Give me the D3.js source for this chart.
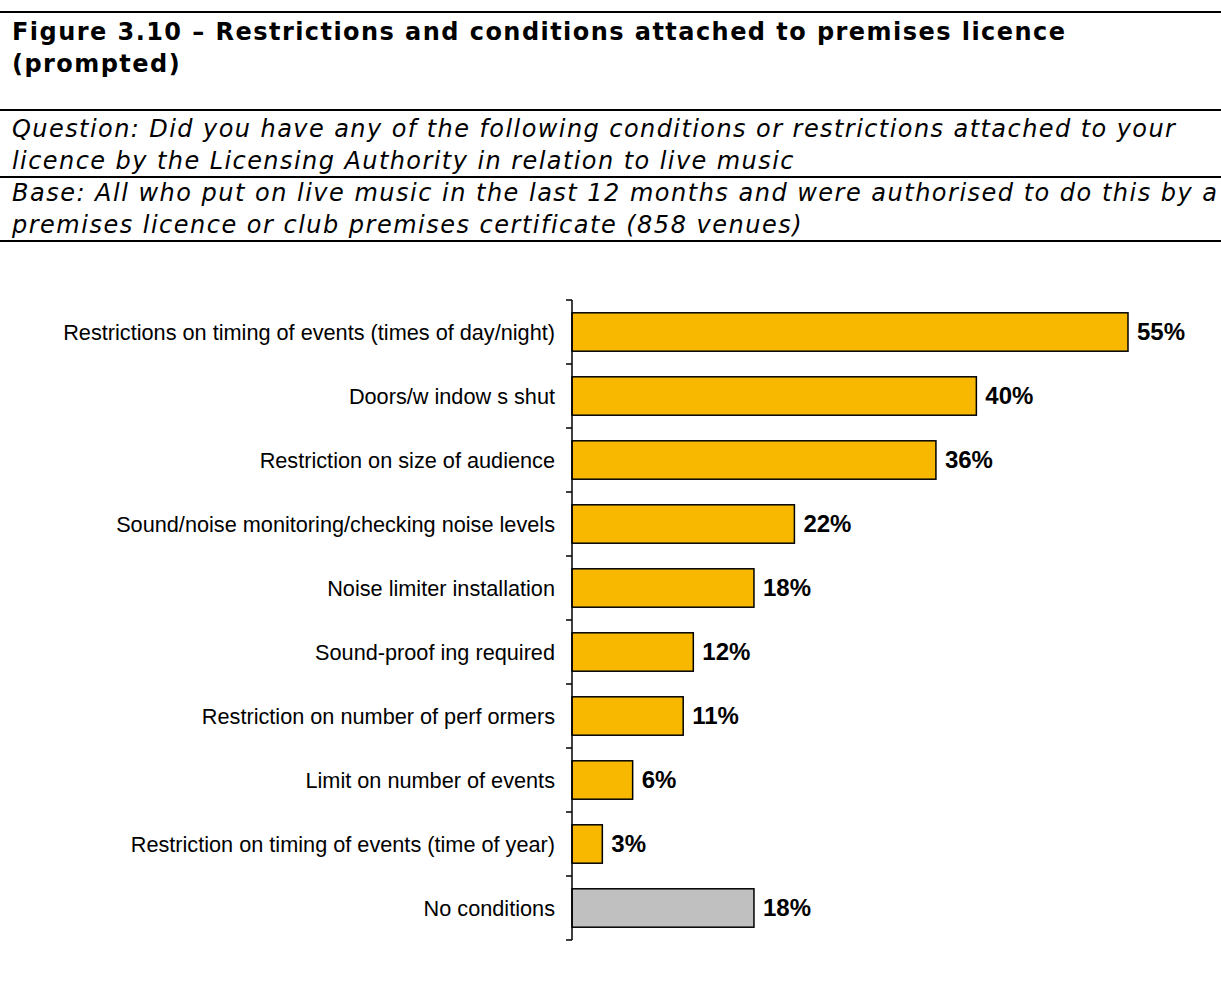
<!DOCTYPE html>
<html>
<head>
<meta charset="utf-8">
<script src="https://cdn.jsdelivr.net/npm/d3@7"></script>
<style>
  html, body { margin: 0; padding: 0; background: #fff; }
  svg { display: block; }
</style>
</head>
<body>
<svg id="chart" width="1221" height="987"></svg>
<script>
// Conditions attached to premises licences, share of venues (%)
const categories = [
  "Restrictions on timing of events (times of day/night)",
  "Doors/w indow s shut",
  "Restriction on size of audience",
  "Sound/noise monitoring/checking noise levels",
  "Noise limiter installation",
  "Sound-proof ing required",
  "Restriction on number of perf ormers",
  "Limit on number of events",
  "Restriction on timing of events (time of year)",
  "No conditions"
];
const values = [55, 40, 36, 22, 18, 12, 11, 6, 3, 18];
const barGroups = ["condition", "condition", "condition", "condition", "condition",
                   "condition", "condition", "condition", "condition", "none"];

const titleLines = [
  "Figure 3.10 \u2013 Restrictions and conditions attached to premises licence",
  "(prompted)"
];
const questionLines = [
  "Question: Did you have any of the following conditions or restrictions attached to your",
  "licence by the Licensing Authority in relation to live music"
];
const baseLines = [
  "Base: All who put on live music in the last 12 months and were authorised to do this by a",
  "premises licence or club premises certificate (858 venues)"
];

const svg = d3.select("#chart");
const W = 1221;

// Header block with rules
const rules = [12, 110, 177, 241];
svg.selectAll("line.rule").data(rules).join("line")
  .attr("class", "rule")
  .attr("x1", 0).attr("x2", W)
  .attr("y1", d => d).attr("y2", d => d)
  .attr("stroke", "#000").attr("stroke-width", 2);

// Header text: the first line of each block sets the tracking, shared by the block
function block(lines, ys, opts) {
  const g = svg.append("g");
  const texts = g.selectAll("text").data(lines).join("text")
    .attr("x", 12)
    .attr("y", (d, i) => ys[i])
    .attr("font-family", "'DejaVu Sans', Verdana, sans-serif")
    .attr("font-size", opts.size)
    .attr("font-weight", opts.weight || "normal")
    .attr("font-style", opts.style || "normal")
    .attr("fill", "#000")
    .text(d => d);
  const first = texts.node();
  const len = first.getComputedTextLength();
  const n = lines[0].length;
  const ls = (opts.width - len) / (n - 1);
  texts.attr("letter-spacing", ls.toFixed(3) + "px");
}
block(titleLines, [39.5, 72], { size: 24, weight: "bold", width: 1053 });
block(questionLines, [136.5, 168.5], { size: 24, style: "italic", width: 1163 });
block(baseLines, [200.5, 232.5], { size: 24, style: "italic", width: 1205 });

// Bar chart
const x0 = 572;
const x = d3.scaleLinear().domain([0, 55]).range([x0, 1128]);
const y = d3.scaleBand().domain(categories).range([300, 940]).paddingInner(0.4).paddingOuter(0.2);

const fill = d3.scaleOrdinal().domain(["condition", "none"]).range(["#f8b800", "#c0c0c0"]);

const data = categories.map((c, i) => ({ cat: c, v: values[i], g: barGroups[i] }));

svg.append("g").selectAll("rect").data(data).join("rect")
  .attr("x", x(0))
  .attr("y", d => y(d.cat))
  .attr("width", d => x(d.v) - x(0))
  .attr("height", y.bandwidth())
  .attr("fill", d => fill(d.g))
  .attr("stroke", "#000")
  .attr("stroke-width", 1.5);

// Category axis: ticks between bands
const tickYs = d3.range(categories.length + 1).map(i => 300 + i * (640 / categories.length));
const axis = svg.append("g");
axis.append("line")
  .attr("x1", x0).attr("x2", x0)
  .attr("y1", tickYs[0]).attr("y2", tickYs[tickYs.length - 1])
  .attr("stroke", "#000").attr("stroke-width", 1.5);
axis.selectAll("line.tick").data(tickYs).join("line")
  .attr("class", "tick")
  .attr("x1", x0 - 6).attr("x2", x0)
  .attr("y1", d => d).attr("y2", d => d)
  .attr("stroke", "#000").attr("stroke-width", 1.5);

svg.append("g").selectAll("text").data(data).join("text")
  .attr("x", x0 - 17)
  .attr("y", d => y(d.cat) + y.bandwidth() / 2)
  .attr("dy", "0.35em")
  .attr("text-anchor", "end")
  .attr("font-family", "'Liberation Sans', Arial, sans-serif")
  .attr("font-size", 21.7)
  .attr("fill", "#000")
  .text(d => d.cat);

// Value labels
svg.append("g").selectAll("text").data(data).join("text")
  .attr("x", d => x(d.v) + 9)
  .attr("y", d => y(d.cat) + y.bandwidth() / 2)
  .attr("dy", "0.35em")
  .attr("font-family", "'Liberation Sans', Arial, sans-serif")
  .attr("font-size", 24)
  .attr("font-weight", "bold")
  .attr("fill", "#000")
  .text(d => d.v + "%");
</script>
</body>
</html>
